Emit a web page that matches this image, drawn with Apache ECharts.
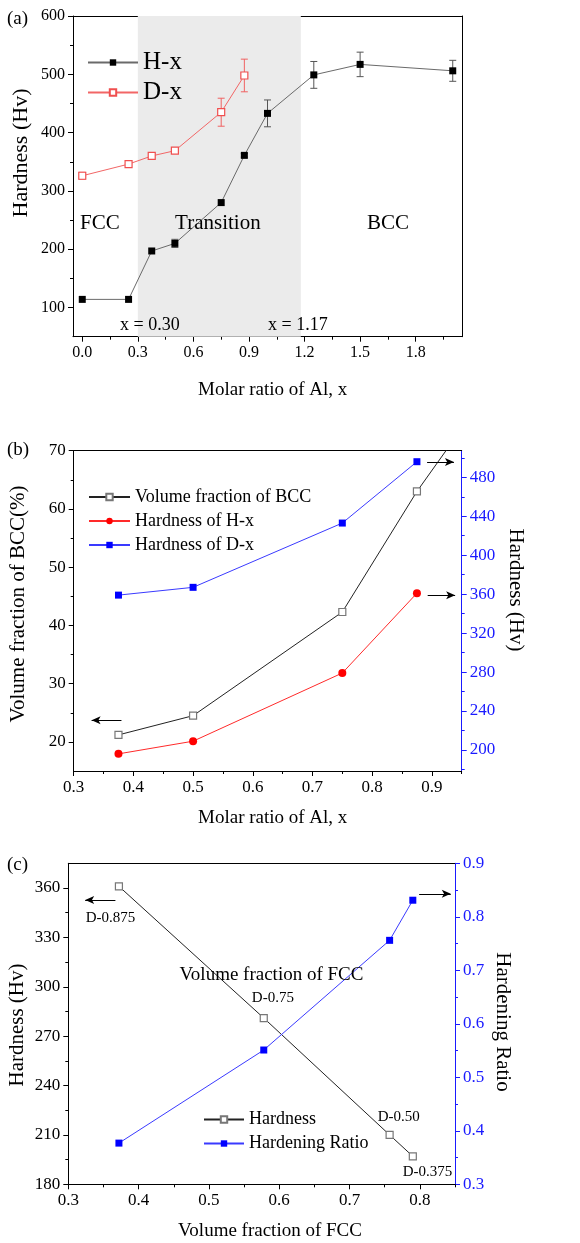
<!DOCTYPE html>
<html><head><meta charset="utf-8">
<script src="https://cdn.jsdelivr.net/npm/echarts@6/dist/echarts.min.js"></script>
<style>html,body{margin:0;padding:0;background:#fff}#c{width:580px;height:1243px}</style>
</head><body><div id="c"></div>
<script>
// ---------- Panel (a) data ----------
const aX_H = [0, 0.25, 0.375, 0.5, 0.75, 0.875, 1.0, 1.25, 1.5, 2.0];
const aHx = [114, 114, 197, 210, 280, 361, 433, 499, 517, 506];
const aHxErr = [0, 0, 0, 7, 0, 3, 23, 23, 21, 18];
const aX_D = [0, 0.25, 0.375, 0.5, 0.75, 0.875];
const aDx = [326, 346, 360, 369, 435, 498];
const aDxErr = [6, 0, 4, 0, 24, 28];
const aTransition = [0.30, 1.18];
const aXTicks = [0, 0.3, 0.6, 0.9, 1.2, 1.5, 1.8];
const aXMinor = [0.15, 0.45, 0.75, 1.05, 1.35, 1.65, 1.95];
const aYTicks = [100, 200, 300, 400, 500, 600];
const aYMinor = [150, 250, 350, 450, 550];
const aRegionNotes = [[0.095, 245, 'FCC'], [0.732, 245, 'Transition'], [1.65, 245, 'BCC']];
const aBoundNotes = [[0.365, 70, 'x = 0.30'], [1.164, 70, 'x = 1.17']];

// ---------- Panel (b) data ----------
const bX_BCC = [0.375, 0.5, 0.75, 0.875, 1.0];
const bBCC = [21.2, 24.5, 42.3, 63.0, 81];
const bX_H = [0.375, 0.5, 0.75, 0.875];
const bHardH = [196, 209, 279, 361];
const bHardD = [359, 367, 433, 496];
const bXTicks = [0.3, 0.4, 0.5, 0.6, 0.7, 0.8, 0.9];
const bXMinor = [0.35, 0.45, 0.55, 0.65, 0.75, 0.85, 0.95];
const bYTicks = [20, 30, 40, 50, 60, 70];
const bYMinor = [25, 35, 45, 55, 65];
const bY2Ticks = [200, 240, 280, 320, 360, 400, 440, 480];
const bY2Minor = [180, 220, 260, 300, 340, 380, 420, 460, 500];
const bArrowBCC = [[0.38, 23.7], [0.33, 23.7]];
const bArrowH = [[0.893, 358.9], [0.939, 358.9]];
const bArrowD = [[0.892, 495.7], [0.937, 495.7]];

// ---------- Panel (c) data ----------
const cFCC = [0.372, 0.578, 0.757, 0.790];
const cHard = [361, 281, 210, 197];
const cRatio = [0.377, 0.551, 0.756, 0.831];
const cXTicks = [0.3, 0.4, 0.5, 0.6, 0.7, 0.8];
const cXMinor = [0.35, 0.45, 0.55, 0.65, 0.75, 0.85];
const cYTicks = [180, 210, 240, 270, 300, 330, 360];
const cYMinor = [195, 225, 255, 285, 315, 345];
const cY2Ticks = [0.3, 0.4, 0.5, 0.6, 0.7, 0.8, 0.9];
const cY2Minor = [0.35, 0.45, 0.55, 0.65, 0.75, 0.85];
const cNotesBig = [[0.589, 307, 'Volume fraction of FCC']];
const cNotes = [[0.360, 341.8, 'D-0.875'], [0.591, 293, 'D-0.75'], [0.770, 220.7, 'D-0.50'], [0.811, 187.3, 'D-0.375']];
const cArrowHard = [[0.367, 352.7], [0.324, 352.7]];
const cArrowRatio = [[0.799, 0.843], [0.844, 0.843]];

const F = 'Liberation Serif';
const BLUE = '#1a1aff';
const zip = (xs, ys) => xs.map((x, i) => [x, ys[i]]);
const zip3 = (xs, ys, es) => xs.map((x, i) => [x, ys[i], es[i]]);

function mainAxis(o) {
  return {
    type: 'value', min: o.min, max: o.max, gridIndex: o.grid, position: o.position,
    axisLine: { show: true, onZero: false, lineStyle: { color: o.color || '#000', width: 1 } },
    axisTick: { show: true, inside: false, length: 5, customValues: o.ticks, lineStyle: { color: o.color || '#000' } },
    axisLabel: { show: true, customValues: o.ticks, fontFamily: F, fontSize: o.fs || 17, color: o.color || '#000', margin: 8,
      formatter: o.fmt || (v => String(v)) },
    splitLine: { show: false }
  };
}
function minorAxis(o) {
  return {
    type: 'value', min: o.min, max: o.max, gridIndex: o.grid, position: o.position,
    axisLine: { show: false, onZero: false },
    axisTick: { show: true, inside: false, length: 3, customValues: o.ticks, lineStyle: { color: o.color || '#000' } },
    axisLabel: { show: false }, splitLine: { show: false }
  };
}
function frameAxis(o) {
  return {
    type: 'value', min: o.min, max: o.max, gridIndex: o.grid, position: o.position,
    axisLine: { show: true, onZero: false, lineStyle: { color: '#000', width: 1 } },
    axisTick: { show: false }, axisLabel: { show: false }, splitLine: { show: false }
  };
}
function errRenderer(color) {
  return function (params, api) {
    const x = api.value(0), y = api.value(1), e = api.value(2);
    if (!e) return null;
    const t = api.coord([x, y + e]), b = api.coord([x, y - e]);
    const w = 3.5, st = { stroke: color, lineWidth: 1 };
    return { type: 'group', children: [
      { type: 'line', shape: { x1: t[0], y1: t[1], x2: b[0], y2: b[1] }, style: st },
      { type: 'line', shape: { x1: t[0] - w, y1: t[1], x2: t[0] + w, y2: t[1] }, style: st },
      { type: 'line', shape: { x1: b[0] - w, y1: b[1], x2: b[0] + w, y2: b[1] }, style: st }
    ] };
  };
}
function arrow(pts) {
  return { silent: true, symbol: ['none', 'arrow'], symbolSize: [6, 9], label: { show: false },
    lineStyle: { color: '#000', width: 1, type: 'solid' }, emphasis: { disabled: true },
    data: [[{ coord: pts[0] }, { coord: pts[1] }]] };
}
function notes(xi, yi, data, fs) {
  return { type: 'scatter', xAxisIndex: xi, yAxisIndex: yi, data: data, symbolSize: 0, silent: true, z: 5,
    itemStyle: { color: '#000', opacity: 1 },
    label: { show: true, position: 'inside', formatter: p => p.value[2], fontFamily: F, fontSize: fs,
      color: '#000', textBorderWidth: 0, textBorderColor: 'transparent', opacity: 1 } };
}
const fmt1 = v => v.toFixed(1);

const option = {
  animation: false,
  backgroundColor: '#fff',
  grid: [
    { left: 73, right: 118, top: 16, height: 320.7 },
    { left: 73.7, right: 118.3, top: 450.7, height: 320.3 },
    { left: 68.3, right: 125, top: 863.3, height: 321 }
  ],
  xAxis: [
    mainAxis({ grid: 0, min: -0.05, max: 2.05, position: 'bottom', ticks: aXTicks, fs: 16, fmt: fmt1 }),
    minorAxis({ grid: 0, min: -0.05, max: 2.05, position: 'bottom', ticks: aXMinor }),
    frameAxis({ grid: 0, min: -0.05, max: 2.05, position: 'top' }),
    mainAxis({ grid: 1, min: 0.3, max: 0.95, position: 'bottom', ticks: bXTicks, fmt: fmt1 }),
    minorAxis({ grid: 1, min: 0.3, max: 0.95, position: 'bottom', ticks: bXMinor }),
    frameAxis({ grid: 1, min: 0.3, max: 0.95, position: 'top' }),
    mainAxis({ grid: 2, min: 0.3, max: 0.85, position: 'bottom', ticks: cXTicks, fmt: fmt1 }),
    minorAxis({ grid: 2, min: 0.3, max: 0.85, position: 'bottom', ticks: cXMinor }),
    frameAxis({ grid: 2, min: 0.3, max: 0.85, position: 'top' })
  ],
  yAxis: [
    mainAxis({ grid: 0, min: 50, max: 600, position: 'left', ticks: aYTicks, fs: 16 }),
    minorAxis({ grid: 0, min: 50, max: 600, position: 'left', ticks: aYMinor }),
    frameAxis({ grid: 0, min: 50, max: 600, position: 'right' }),
    mainAxis({ grid: 1, min: 15, max: 70, position: 'left', ticks: bYTicks }),
    minorAxis({ grid: 1, min: 15, max: 70, position: 'left', ticks: bYMinor }),
    mainAxis({ grid: 1, min: 178.4, max: 507.3, position: 'right', ticks: bY2Ticks, color: BLUE }),
    minorAxis({ grid: 1, min: 178.4, max: 507.3, position: 'right', ticks: bY2Minor, color: BLUE }),
    mainAxis({ grid: 2, min: 180, max: 375, position: 'left', ticks: cYTicks }),
    minorAxis({ grid: 2, min: 180, max: 375, position: 'left', ticks: cYMinor }),
    mainAxis({ grid: 2, min: 0.3, max: 0.9, position: 'right', ticks: cY2Ticks, color: BLUE, fmt: fmt1 }),
    minorAxis({ grid: 2, min: 0.3, max: 0.9, position: 'right', ticks: cY2Minor, color: BLUE })
  ],
  legend: [
    { data: ['H-x', 'D-x'], left: 82, top: 45, orient: 'vertical', itemWidth: 50, itemHeight: 8, itemGap: 5,
      textStyle: { fontFamily: F, fontSize: 25, lineHeight: 25, color: '#000' } },
    { data: ['Volume fraction of BCC', 'Hardness of H-x', 'Hardness of D-x'], left: 83, top: 483, orient: 'vertical',
      itemWidth: 41, itemHeight: 8, itemGap: 6, textStyle: { fontFamily: F, fontSize: 18, lineHeight: 18, color: '#000' } },
    { data: ['Hardness', 'Hardening Ratio'], left: 198, top: 1105.5, orient: 'vertical',
      itemWidth: 40, itemHeight: 8, itemGap: 6, textStyle: { fontFamily: F, fontSize: 18, lineHeight: 18, color: '#000' } }
  ],
  graphic: [
    { type: 'text', left: 7, top: 10, style: { text: '(a)', font: '19px "Liberation Serif"', fill: '#000' } },
    { type: 'text', left: 7, top: 441, style: { text: '(b)', font: '19px "Liberation Serif"', fill: '#000' } },
    { type: 'text', left: 7, top: 856, style: { text: '(c)', font: '19px "Liberation Serif"', fill: '#000' } },
    { type: 'text', x: 272.7, y: 390, style: { text: 'Molar ratio of Al, x', font: '19px "Liberation Serif"', fill: '#000', align: 'center', verticalAlign: 'middle' } },
    { type: 'text', x: 21, y: 153, rotation: Math.PI / 2, style: { text: 'Hardness (Hv)', font: '22px "Liberation Serif"', fill: '#000', align: 'center', verticalAlign: 'middle' } },
    { type: 'text', x: 272.7, y: 818.3, style: { text: 'Molar ratio of Al, x', font: '19px "Liberation Serif"', fill: '#000', align: 'center', verticalAlign: 'middle' } },
    { type: 'text', x: 18, y: 604, rotation: Math.PI / 2, style: { text: 'Volume fraction of BCC(%)', font: '21px "Liberation Serif"', fill: '#000', align: 'center', verticalAlign: 'middle' } },
    { type: 'text', x: 516, y: 590, rotation: -Math.PI / 2, style: { text: 'Hardness (Hv)', font: '21px "Liberation Serif"', fill: '#000', align: 'center', verticalAlign: 'middle' } },
    { type: 'text', x: 270, y: 1230.7, style: { text: 'Volume fraction of FCC', font: '19px "Liberation Serif"', fill: '#000', align: 'center', verticalAlign: 'middle' } },
    { type: 'text', x: 17, y: 1025, rotation: Math.PI / 2, style: { text: 'Hardness (Hv)', font: '21px "Liberation Serif"', fill: '#000', align: 'center', verticalAlign: 'middle' } },
    { type: 'text', x: 503, y: 1022, rotation: -Math.PI / 2, style: { text: 'Hardening Ratio', font: '21px "Liberation Serif"', fill: '#000', align: 'center', verticalAlign: 'middle' } }
  ],
  series: [
    // (a)
    { name: 'shade', type: 'line', xAxisIndex: 0, yAxisIndex: 0, data: [], z: -1, silent: true,
      markArea: { silent: true, itemStyle: { color: '#ebebeb' }, data: [[{ xAxis: aTransition[0] }, { xAxis: aTransition[1] }]] } },
    { name: 'errH', type: 'custom', xAxisIndex: 0, yAxisIndex: 0, data: zip3(aX_H, aHx, aHxErr), renderItem: errRenderer('#555'), encode: { x: 0, y: 1 }, z: 1, silent: true },
    { name: 'errD', type: 'custom', xAxisIndex: 0, yAxisIndex: 0, data: zip3(aX_D, aDx, aDxErr), renderItem: errRenderer('#f06262'), encode: { x: 0, y: 1 }, z: 1, silent: true },
    { name: 'H-x', type: 'line', xAxisIndex: 0, yAxisIndex: 0, data: zip(aX_H, aHx), symbol: 'rect', symbolSize: 7,
      itemStyle: { color: '#000' }, lineStyle: { color: '#6a6a6a', width: 1 }, z: 3 },
    { name: 'D-x', type: 'line', xAxisIndex: 0, yAxisIndex: 0, data: zip(aX_D, aDx), symbol: 'rect', symbolSize: 7,
      itemStyle: { color: '#fff', borderColor: '#f04f4f', borderWidth: 1.2 }, lineStyle: { color: '#f26666', width: 1 }, z: 3 },
    notes(0, 0, aRegionNotes, 21),
    notes(0, 0, aBoundNotes, 18),
    // (b)
    { name: 'Volume fraction of BCC', type: 'line', xAxisIndex: 3, yAxisIndex: 3, data: zip(bX_BCC, bBCC), symbol: 'rect', symbolSize: 7,
      itemStyle: { color: '#fff', borderColor: '#777', borderWidth: 1.2 }, lineStyle: { color: '#222', width: 1 }, z: 3,
      markLine: arrow(bArrowBCC) },
    { name: 'Hardness of H-x', type: 'line', xAxisIndex: 3, yAxisIndex: 5, data: zip(bX_H, bHardH), symbol: 'circle', symbolSize: 8,
      itemStyle: { color: '#ff0000' }, lineStyle: { color: '#ff2a2a', width: 1 }, z: 3, markLine: arrow(bArrowH) },
    { name: 'Hardness of D-x', type: 'line', xAxisIndex: 3, yAxisIndex: 5, data: zip(bX_H, bHardD), symbol: 'rect', symbolSize: 7,
      itemStyle: { color: '#0000ff' }, lineStyle: { color: '#3a3aff', width: 1 }, z: 3, markLine: arrow(bArrowD) },
    // (c)
    { name: 'Hardness', type: 'line', xAxisIndex: 6, yAxisIndex: 7, data: zip(cFCC, cHard), symbol: 'rect', symbolSize: 7,
      itemStyle: { color: '#fff', borderColor: '#777', borderWidth: 1.2 }, lineStyle: { color: '#222', width: 1 }, z: 3,
      markLine: arrow(cArrowHard) },
    { name: 'Hardening Ratio', type: 'line', xAxisIndex: 6, yAxisIndex: 9, data: zip(cFCC, cRatio), symbol: 'rect', symbolSize: 7,
      itemStyle: { color: '#0000ff' }, lineStyle: { color: '#3a3aff', width: 1 }, z: 3, markLine: arrow(cArrowRatio) },
    notes(6, 7, cNotesBig, 19),
    notes(6, 7, cNotes, 15)
  ]
};
const chart = echarts.init(document.getElementById('c'), null, { renderer: 'canvas' });
chart.setOption(option);
</script>
</body></html>
